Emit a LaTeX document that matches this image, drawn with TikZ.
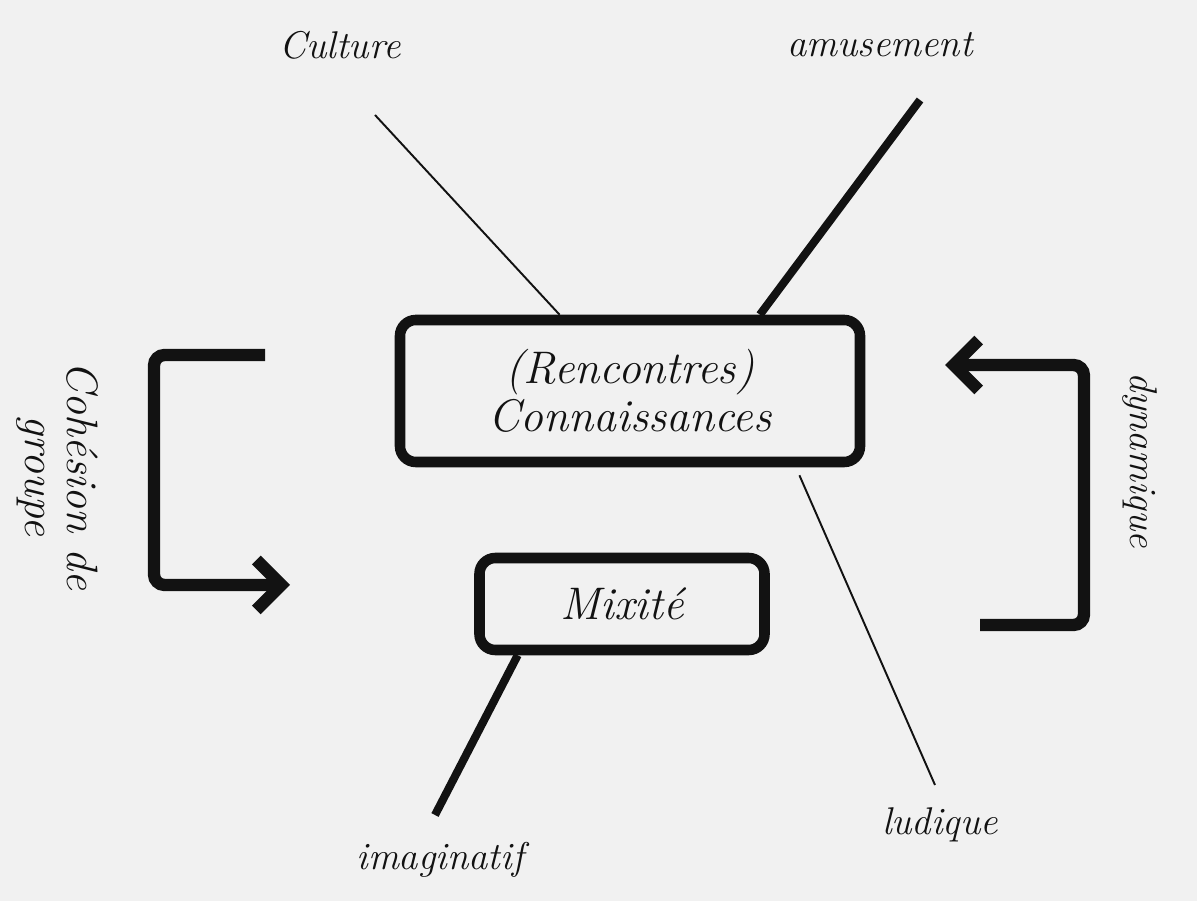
\documentclass[tikz,border=0pt]{standalone}
\usepackage{fontspec}
\usepackage{tikz}
\usetikzlibrary{arrows.meta,positioning,calc}
\definecolor{paper}{gray}{0.945}
\definecolor{ink}{gray}{0.07}
\tikzset{
  ideabox/.style={draw=ink,line width=6pt,rounded corners=9pt,align=center,
    text=ink,font=\itshape\fontsize{26}{27}\selectfont},
  handlabel/.style={font=\itshape\fontsize{22}{26}\selectfont,text=ink,inner sep=0pt},
  thinlink/.style={draw=ink,line width=1.1pt},
  thicklink/.style={draw=ink,line width=4.6pt},
  looparrow/.style={draw=ink,line width=7pt,rounded corners=6pt,
    -{Straight Barb[length=5mm,width=10mm]}}
}
\begin{document}
\begin{tikzpicture}
  \fill[paper] (0,0) rectangle (23.94,18.02);
  \useasboundingbox (0,0) rectangle (23.94,18.02);
  % boxes
  \node[ideabox,minimum width=9.2cm,minimum height=2.84cm] (connais) at (12.6,10.2)
    {(Rencontres)\\Connaissances};
  \node[ideabox,minimum width=5.7cm,minimum height=1.84cm] (mixite) at (12.44,5.94) {Mixité};
  % labels
  \node[handlabel] (culture) at (6.8,17.12) {Culture};
  \node[handlabel] (amusement) at (17.6,17.12) {amusement};
  \node[handlabel] (imaginatif) at (8.8,0.82) {imaginatif};
  \node[handlabel] (ludique) at (18.8,1.52) {ludique};
  \node[handlabel,rotate=-90,align=center,font=\itshape\fontsize{25}{24}\selectfont]
    (cohesion) at (1.15,8.5) {Cohésion de\\groupe};
  \node[handlabel,rotate=-90] (dynamique) at (22.8,8.82) {dynamique};
  % free ends
  \coordinate (culturefoot) at (7.5,15.72);
  \coordinate (amusefoot) at (18.4,16.02);
  \coordinate (imagfoot) at (8.7,1.72);
  \coordinate (ludiquefoot) at (18.7,2.32);
  \coordinate (cohtop) at (5.3,10.92);
  \coordinate (cohbot) at (5.8,6.32);
  \coordinate (dyntail) at (19.6,5.52);
  \coordinate (dynhead) at (18.9,10.72);
  % links
  \draw[thinlink] (culturefoot) -- (connais);
  \draw[thicklink] (amusefoot) -- ($(connais.north east)!0.224!(connais.north west)$);
  \draw[thicklink] ($(mixite.south west)!0.147!(mixite.south east)$) -- (imagfoot);
  \draw[thinlink] ($(connais.south east)!0.14!(connais.south west)+(0,-0.16)$) -- (ludiquefoot);
  % loops
  \draw[looparrow] (cohtop) -| ($(cohbot)+(-2.72,0)$) -- (cohbot);
  \draw[looparrow] (dyntail) -| ($(dynhead)+(2.78,0)$) -- (dynhead);
\end{tikzpicture}
\end{document}
